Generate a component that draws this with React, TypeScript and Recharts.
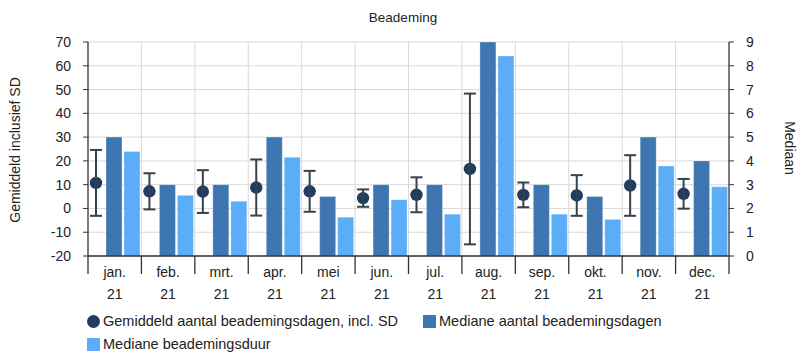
import { Bar, CartesianGrid, ComposedChart, ErrorBar, XAxis, YAxis } from "recharts";

const months = ["jan.", "feb.", "mrt.", "apr.", "mei", "jun.", "jul.", "aug.", "sep.", "okt.", "nov.", "dec."];
const year = "21";
const meanDays = [10.75, 7.2, 7.1, 8.8, 7.2, 4.35, 5.75, 16.6, 5.7, 5.45, 9.65, 6.15];
const sdDays = [13.85, 7.6, 9.0, 11.8, 8.6, 3.65, 7.35, 31.7, 5.2, 8.55, 12.75, 6.25];
const medianDays = [5, 3, 3, 5, 2.5, 3, 3, 9, 3, 2.5, 5, 4];
const medianDuration = [4.4, 2.55, 2.3, 4.15, 1.63, 2.37, 1.76, 8.41, 1.76, 1.54, 3.79, 2.91];
const leftTicks = [-20, -10, 0, 10, 20, 30, 40, 50, 60, 70];
const rightTicks = [0, 1, 2, 3, 4, 5, 6, 7, 8, 9];

const data = months.map((m, i) => ({
  month: m,
  mean: meanDays[i],
  sd: sdDays[i],
  medDays: medianDays[i],
  medDur: medianDuration[i],
}));

const W = 806;
const H = 362;
const M = { top: 42, right: 27, left: 28, bottom: 56 };
const LEFT_AXIS_W = 60;
const RIGHT_AXIS_W = 50;
const X_AXIS_H = 50;
const PLOT_L = M.left + LEFT_AXIS_W;
const PLOT_W = W - PLOT_L - M.right - RIGHT_AXIS_W;
const PLOT_B = H - M.bottom - X_AXIS_H;
const BAND = PLOT_W / months.length;

const DARK = "#3d76b0";
const LIGHT = "#5badf8";
const POINT = "#213c5e";
const AXIS = "#333";
const FONT = "'Liberation Sans', Arial, sans-serif";

function MonthTick(props: any) {
  const { x, payload, index } = props;
  const half = BAND / 2;
  return (
    <g>
      <line x1={x - half} x2={x - half} y1={PLOT_B} y2={PLOT_B + 18} stroke={AXIS} strokeWidth={1.3} />
      {index === months.length - 1 && (
        <line x1={x + half} x2={x + half} y1={PLOT_B} y2={PLOT_B + 18} stroke={AXIS} strokeWidth={1.3} />
      )}
      <text x={x} y={PLOT_B + 21} textAnchor="middle" fontSize={14} fill="#222" fontFamily={FONT}>
        {payload.value}
      </text>
      <text x={x} y={PLOT_B + 43} textAnchor="middle" fontSize={14} fill="#222" fontFamily={FONT}>
        {year}
      </text>
    </g>
  );
}

function MeanDot(props: any) {
  const { x, y, width } = props;
  return <circle cx={x + width / 2} cy={y} r={6.2} fill={POINT} />;
}

function LegendRow({ marker, label, left, top }: { marker: "circle" | "square"; label: string; left: number; top: number }) {
  const color = marker === "circle" ? POINT : label.includes("duur") ? LIGHT : DARK;
  return (
    <div style={{ position: "absolute", left, top, display: "flex", alignItems: "center", fontSize: 14.5, color: "#222" }}>
      <span
        style={{
          width: 13,
          height: 13,
          background: color,
          borderRadius: marker === "circle" ? "50%" : 0,
          marginRight: 3,
          display: "inline-block",
        }}
      />
      {label}
    </div>
  );
}

export default function App() {
  return (
    <div style={{ position: "absolute", left: 0, top: 0, width: W, height: H, fontFamily: FONT, background: "#fff" }}>
      <div style={{ position: "absolute", left: 0, width: W, top: 10, textAlign: "center", fontSize: 13.5, color: "#222" }}>
        Beademing
      </div>
      <div
        style={{
          position: "absolute",
          left: 15,
          top: 150,
          fontSize: 14,
          color: "#222",
          whiteSpace: "nowrap",
          transform: "translate(-50%, -50%) rotate(-90deg)",
        }}
      >
        Gemiddeld inclusief SD
      </div>
      <div
        style={{
          position: "absolute",
          left: 790,
          top: 148,
          fontSize: 14,
          color: "#222",
          whiteSpace: "nowrap",
          transform: "translate(-50%, -50%) rotate(90deg)",
        }}
      >
        Mediaan
      </div>
      <ComposedChart width={W} height={H} data={data} margin={M} barCategoryGap={0} barGap={2}>
        <CartesianGrid
          yAxisId="left"
          stroke="#d9d9d9"
          verticalCoordinatesGenerator={() => months.map((_, i) => PLOT_L + BAND * i).slice(1)}
        />
        <XAxis
          dataKey="month"
          height={X_AXIS_H}
          interval={0}
          tickLine={false}
          axisLine={{ stroke: AXIS, strokeWidth: 1.3 }}
          tick={<MonthTick />}
        />
        <YAxis
          yAxisId="left"
          width={LEFT_AXIS_W}
          domain={[-20, 70]}
          ticks={leftTicks}
          interval={0}
          tickSize={5}
          tickMargin={12}
          axisLine={{ stroke: AXIS, strokeWidth: 1.3 }}
          tickLine={{ stroke: AXIS }}
          tick={{ fontSize: 14, fill: "#222", fontFamily: FONT }}
        />
        <YAxis
          yAxisId="right"
          orientation="right"
          width={RIGHT_AXIS_W}
          domain={[0, 9]}
          ticks={rightTicks}
          interval={0}
          tickSize={5}
          tickMargin={12}
          axisLine={{ stroke: AXIS, strokeWidth: 1.3 }}
          tickLine={{ stroke: AXIS }}
          tick={{ fontSize: 14, fill: "#222", fontFamily: FONT }}
        />
        <Bar yAxisId="left" dataKey="mean" shape={<MeanDot />} isAnimationActive={false}>
          <ErrorBar dataKey="sd" width={6} stroke="#34414f" strokeWidth={2} direction="y" />
        </Bar>
        <Bar
          yAxisId="right"
          dataKey="medDays"
          fill={DARK}
          stroke="#ffffff"
          strokeOpacity={0.3}
          isAnimationActive={false}
        />
        <Bar
          yAxisId="right"
          dataKey="medDur"
          fill={LIGHT}
          stroke="#ffffff"
          strokeOpacity={0.3}
          isAnimationActive={false}
        />
      </ComposedChart>
      <LegendRow marker="circle" label="Gemiddeld aantal beademingsdagen, incl. SD" left={87} top={313} />
      <LegendRow marker="square" label="Mediane aantal beademingsdagen" left={423} top={313} />
      <LegendRow marker="square" label="Mediane beademingsduur" left={87} top={336} />
    </div>
  );
}
